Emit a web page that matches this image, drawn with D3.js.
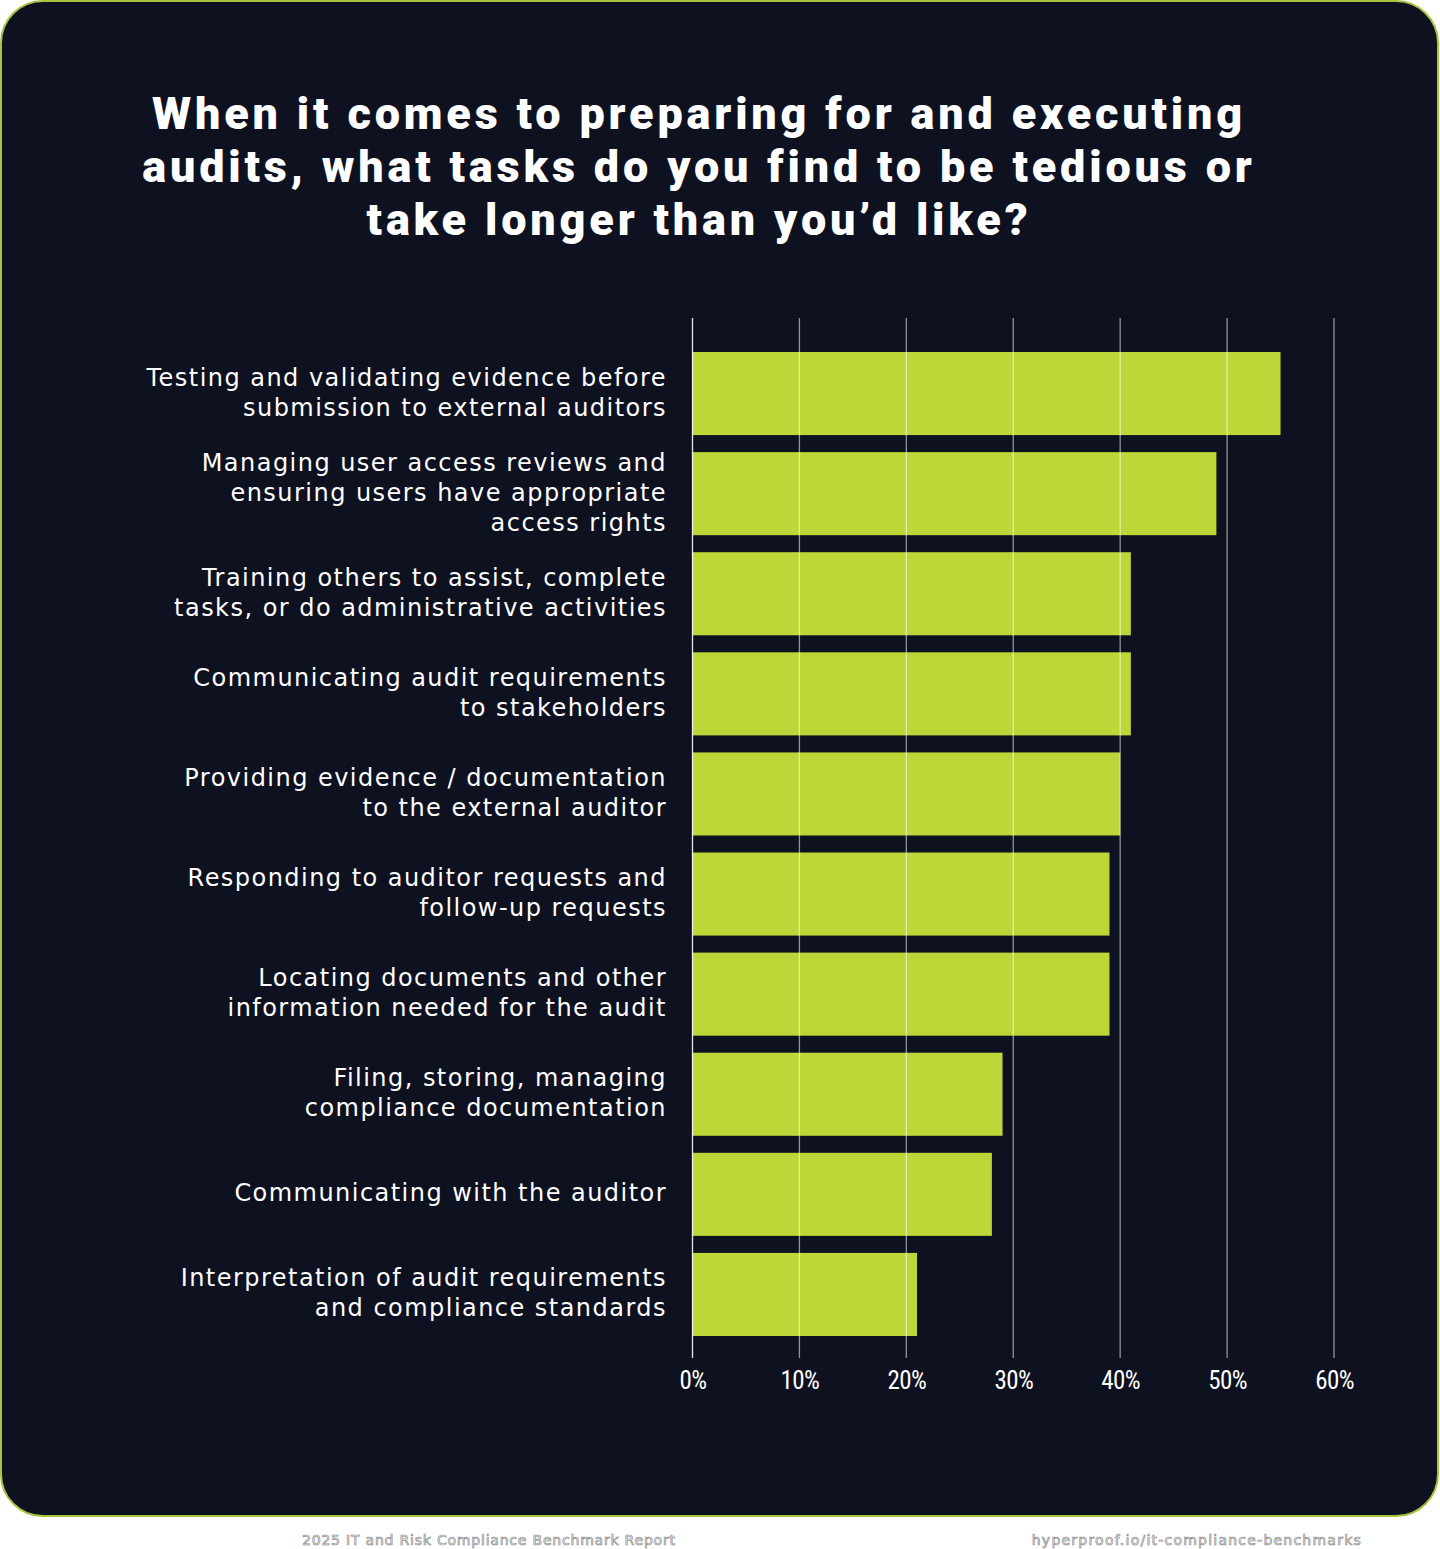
<!DOCTYPE html>
<html>
<head>
<meta charset="utf-8">
<script src="https://cdn.jsdelivr.net/npm/d3@7"></script>
<style>
  html, body { margin: 0; padding: 0; background: #ffffff; }
  svg { display: block; }
</style>
</head>
<body>
<svg id="chart" width="1440" height="1549"></svg>
<script>
const categories = [
  ["Testing and validating evidence before", "submission to external auditors"],
  ["Managing user access reviews and", "ensuring users have appropriate", "access rights"],
  ["Training others to assist, complete", "tasks, or do administrative activities"],
  ["Communicating audit requirements", "to stakeholders"],
  ["Providing evidence / documentation", "to the external auditor"],
  ["Responding to auditor requests and", "follow-up requests"],
  ["Locating documents and other", "information needed for the audit"],
  ["Filing, storing, managing", "compliance documentation"],
  ["Communicating with the auditor"],
  ["Interpretation of audit requirements", "and compliance standards"]
];
const values = [55, 49, 41, 41, 40, 39, 39, 29, 28, 21];
const tickValues = [0, 10, 20, 30, 40, 50, 60];
const titleLines = [
  "When it comes to preparing for and executing",
  "audits, what tasks do you find to be tedious or",
  "take longer than you\u2019d like?"
];
const footerLeft = "2025 IT and Risk Compliance Benchmark Report";
const footerRight = "hyperproof.io/it-compliance-benchmarks";

const svg = d3.select("#chart");
const W = 1440;

// fit a text element's width by letter-spacing
function fitSpacing(sel, node, target) {
  const w = node.getComputedTextLength();
  const n = node.textContent.length;
  const ls = (target - w) / Math.max(1, n - 1);
  sel.style("letter-spacing", ls + "px");
  return ls;
}

// card
svg.append("rect")
  .attr("x", 1).attr("y", 1).attr("width", W - 3).attr("height", 1515)
  .attr("rx", 42).attr("ry", 42)
  .attr("fill", "#0e111f").attr("stroke", "#a9c23c").attr("stroke-width", 2);

// title
const title = svg.append("g")
  .attr("fill", "#ffffff")
  .attr("font-family", "Roboto, sans-serif")
  .attr("font-weight", 900)
  .attr("font-size", 45)
  .attr("text-anchor", "middle");
titleLines.forEach((t, i) => {
  title.append("text")
    .attr("x", 699).attr("y", 129 + i * 53)
    .text(t);
});
fitSpacing(title.selectAll("text"), title.select("text").node(), 1090);

// scales
const x = d3.scaleLinear().domain([0, 60]).range([692.5, 1334]);
const y = d3.scaleBand().domain(d3.range(values.length)).range([343.5, 1344.5]).paddingInner(0.17).paddingOuter(0.085);

// bars
svg.append("g").selectAll("rect").data(values).join("rect")
  .attr("x", x(0))
  .attr("y", (d, i) => y(i))
  .attr("width", d => x(d) - x(0))
  .attr("height", y.bandwidth())
  .attr("fill", "#bed738");

// gridlines (drawn over the bars)
svg.append("g").selectAll("line").data(tickValues).join("line")
  .attr("x1", d => x(d)).attr("x2", d => x(d))
  .attr("y1", 318).attr("y2", 1358)
  .attr("stroke", "#ffffff")
  .attr("stroke-opacity", d => d === 0 ? 0.9 : 0.55)
  .attr("stroke-width", 1.3);

// x axis labels
const axis = d3.axisBottom(x).tickValues(tickValues).tickFormat(d => d + "%").tickSize(0).tickPadding(0);
const ax = svg.append("g").attr("transform", "translate(0,1366)").call(axis);
ax.select(".domain").remove();
ax.selectAll("text")
  .attr("fill", "#ffffff")
  .attr("font-family", "'Roboto Condensed', 'Liberation Sans Narrow', Roboto, sans-serif")
  .attr("font-size", 25)
  .attr("dy", "0.92em")
  .style("letter-spacing", "-0.6px");

// category labels
const lab = svg.append("g")
  .attr("text-anchor", "end")
  .attr("fill", "#ffffff")
  .attr("font-family", "'DejaVu Sans', sans-serif")
  .attr("font-size", 24);
const lh = 30;
categories.forEach((lines, i) => {
  const cy = y(i) + y.bandwidth() / 2;
  lines.forEach((ln, j) => {
    lab.append("text")
      .attr("x", 667)
      .attr("y", cy + (j - (lines.length - 1) / 2) * lh + 7)
      .text(ln);
  });
});
fitSpacing(lab.selectAll("text"), lab.select("text").node(), 519);

// footer
const foot = svg.append("g")
  .attr("font-family", "'DejaVu Sans', sans-serif")
  .attr("font-size", 14)
  .attr("fill", "#ffffff")
  .attr("stroke", "#8c8c8c")
  .attr("stroke-width", 0.7);
const fl = foot.append("text").attr("x", 302).attr("y", 1545).text(footerLeft);
fitSpacing(fl, fl.node(), 373);
const fr = foot.append("text").attr("x", 1362).attr("y", 1545).attr("text-anchor", "end").text(footerRight);
fitSpacing(fr, fr.node(), 329);
</script>
</body>
</html>
